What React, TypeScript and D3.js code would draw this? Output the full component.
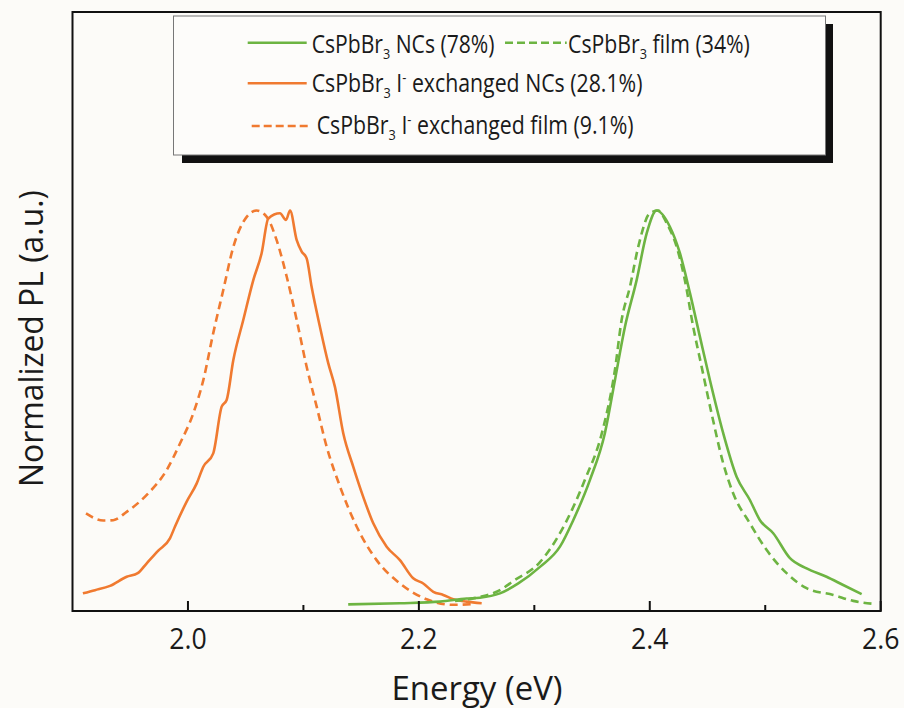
import React, { useLayoutEffect, useRef, useState } from 'react';
import * as d3 from 'd3';

// ---------- data ----------
// CsPbBr3 NCs (78%) – green solid
const brNcE = [2.1388, 2.1836, 2.2183, 2.2414, 2.2529, 2.2702, 2.2861, 2.3049, 2.3222, 2.3337, 2.3482, 2.3611, 2.3698, 2.3785, 2.3886, 2.3973, 2.4059, 2.4174, 2.4261, 2.4348, 2.4434, 2.4521, 2.4636, 2.4752, 2.4867, 2.4954, 2.5069, 2.5214, 2.5358, 2.5531, 2.5675, 2.5835];
const brNcI = [0.004, 0.007, 0.011, 0.019, 0.021, 0.032, 0.057, 0.099, 0.150, 0.217, 0.319, 0.437, 0.571, 0.706, 0.824, 0.942, 1.0, 0.959, 0.892, 0.791, 0.681, 0.571, 0.437, 0.327, 0.268, 0.217, 0.184, 0.121, 0.095, 0.074, 0.053, 0.030];

// CsPbBr3 film (34%) – green dashed
const brFilmE = [2.2313, 2.2529, 2.2702, 2.2817, 2.3049, 2.3222, 2.3438, 2.3585, 2.3698, 2.3756, 2.3828, 2.39, 2.4, 2.4073, 2.4146, 2.4233, 2.4304, 2.4376, 2.4449, 2.4535, 2.4636, 2.4722, 2.4867, 2.5011, 2.5185, 2.5358, 2.5589, 2.5762, 2.595];
const brFilmI = [0.013, 0.023, 0.040, 0.063, 0.111, 0.184, 0.319, 0.437, 0.597, 0.723, 0.807, 0.908, 0.993, 1.0, 0.968, 0.908, 0.824, 0.706, 0.605, 0.487, 0.361, 0.285, 0.209, 0.142, 0.083, 0.045, 0.028, 0.013, 0.005];

// CsPbBr3 I- exchanged NCs (28.1%) – orange solid
const iNcE = [1.909, 1.9195, 1.9325, 1.9469, 1.9565, 1.9643, 1.9743, 1.9844, 1.9888, 1.9989, 2.0076, 2.0133, 2.0219, 2.0292, 2.0335, 2.0393, 2.0479, 2.0566, 2.0638, 2.0696, 2.0797, 2.0849, 2.0884, 2.0942, 2.0985, 2.1028, 2.1071, 2.1143, 2.1215, 2.1273, 2.1345, 2.1432, 2.1518, 2.1605, 2.1721, 2.1836, 2.1951, 2.2038, 2.2125, 2.2211, 2.2298, 2.2414, 2.2544];
const iNcI = [0.032, 0.040, 0.051, 0.074, 0.083, 0.108, 0.140, 0.171, 0.201, 0.264, 0.310, 0.352, 0.386, 0.504, 0.521, 0.622, 0.723, 0.824, 0.892, 0.980, 0.993, 0.976, 1.0, 0.925, 0.896, 0.879, 0.807, 0.706, 0.614, 0.554, 0.437, 0.352, 0.276, 0.209, 0.150, 0.116, 0.070, 0.057, 0.036, 0.028, 0.017, 0.011, 0.007];

// CsPbBr3 I- exchanged film (9.1%) – orange dashed
const iFilmE = [1.9117, 1.9267, 1.9353, 1.9469, 1.9643, 1.9816, 1.9931, 2.0046, 2.0133, 2.0219, 2.0306, 2.0393, 2.0509, 2.0595, 2.0682, 2.0768, 2.0855, 2.0942, 2.1028, 2.1115, 2.1201, 2.1317, 2.1461, 2.1634, 2.1836, 2.2067, 2.2298, 2.2471];
const iFilmI = [0.234, 0.216, 0.217, 0.238, 0.281, 0.344, 0.411, 0.487, 0.571, 0.690, 0.799, 0.908, 0.984, 1.0, 0.984, 0.925, 0.833, 0.723, 0.605, 0.504, 0.403, 0.302, 0.201, 0.116, 0.057, 0.017, 0.003, 0.005];

const majorTicks = [2.0, 2.2, 2.4, 2.6];
const minorTicks = [2.1, 2.3, 2.5];
const xTitle = 'Energy (eV)';
const yTitle = 'Normalized PL (a.u.)';

// legend label pieces: [before "I", has iodide mark, tail]
const legendTails = [' NCs (78%)', ' film (34%)', ' exchanged NCs (28.1%)', ' exchanged film (9.1%)'];
const legendIodide = [false, false, true, true];

const GREEN = '#6db442';
const ORANGE = '#f07a30';
const BG = '#fcfbf8';
const FONT = "'Open Sans', 'Noto Sans', sans-serif";

const W = 904;
const H = 708;
const plot = { left: 72.5, right: 880.7, top: 12, bottom: 611 };

// legend layout (positions only)
const legendText = [
  { x: 311.7, y: 53, w: 183 },
  { x: 568, y: 53, w: 182 },
  { x: 311.7, y: 92, w: 331 },
  { x: 316.7, y: 133.5, w: 317 },
];

export default function App() {
  const x = d3.scaleLinear().domain([1.9, 2.6]).range([plot.left, plot.right]);
  const y = d3.scaleLinear().domain([0, 1]).range([606, 210.5]);
  const line = d3
    .line<[number, number]>()
    .x((d) => x(d[0]))
    .y((d) => y(d[1]))
    .curve(d3.curveMonotoneX);
  const zip = (a: number[], b: number[]) => a.map((v, i) => [v, b[i]] as [number, number]);
  const fmt = d3.format('.1f');

  const refs = useRef<(SVGTextElement | null)[]>([]);
  const [scales, setScales] = useState<number[]>([1, 1, 1, 1]);
  useLayoutEffect(() => {
    const s = refs.current.map((el, i) => {
      if (!el) return 1;
      const w = el.getBBox().width;
      return w > 0 ? legendText[i].w / w : 1;
    });
    setScales(s);
  }, []);

  const series = [
    { d: zip(iFilmE, iFilmI), color: ORANGE, dash: '8 5' },
    { d: zip(iNcE, iNcI), color: ORANGE, dash: null },
    { d: zip(brFilmE, brFilmI), color: GREEN, dash: '8 5' },
    { d: zip(brNcE, brNcI), color: GREEN, dash: null },
  ];

  return (
    <svg
      width={W}
      height={H}
      style={{ position: 'absolute', left: 0, top: 0, display: 'block' }}
      fontFamily={FONT}
    >
      <rect x={0} y={0} width={W} height={H} fill={BG} />

      {/* curves */}
      <g fill="none" strokeWidth={2.6} strokeLinejoin="round" strokeLinecap="butt">
        {series.map((s, i) => (
          <path key={i} d={line(s.d) || ''} stroke={s.color} strokeDasharray={s.dash || undefined} />
        ))}
      </g>

      {/* frame */}
      <rect
        x={plot.left}
        y={plot.top}
        width={plot.right - plot.left}
        height={plot.bottom - plot.top}
        fill="none"
        stroke="#111"
        strokeWidth={2}
      />
      {/* ticks */}
      {majorTicks.map((t) => (
        <g key={'M' + t}>
          <line x1={x(t)} x2={x(t)} y1={plot.bottom} y2={plot.bottom - 10} stroke="#111" strokeWidth={2} />
          <text
            x={x(t)}
            y={649}
            textAnchor="middle"
            fontSize={29.5}
            fill="#1a1a1a"
            textLength={37.5}
            lengthAdjust="spacingAndGlyphs"
          >
            {fmt(t)}
          </text>
        </g>
      ))}
      {minorTicks.map((t) => (
        <line key={'m' + t} x1={x(t)} x2={x(t)} y1={plot.bottom} y2={plot.bottom - 6} stroke="#111" strokeWidth={2} />
      ))}

      {/* axis titles */}
      <text
        x={477}
        y={700}
        textAnchor="middle"
        fontSize={32}
        fill="#1a1a1a"
        textLength={171}
        lengthAdjust="spacingAndGlyphs"
      >
        {xTitle}
      </text>
      <text
        transform="translate(43,338.5) rotate(-90)"
        textAnchor="middle"
        fontSize={32}
        fill="#1a1a1a"
        textLength={297}
        lengthAdjust="spacingAndGlyphs"
      >
        {yTitle}
      </text>

      {/* legend */}
      <rect x={182} y={24} width={651} height={139} fill="#111" />
      <rect x={173.5} y={16} width={652} height={139} fill="#fdfcfa" stroke="#777" strokeWidth={1} />
      <g strokeWidth={2.6}>
        <line x1={247.7} x2={306.7} y1={42.7} y2={42.7} stroke={GREEN} />
        <line x1={505} x2={566.7} y1={42.7} y2={42.7} stroke={GREEN} strokeDasharray="8 4" />
        <line x1={247.7} x2={306.7} y1={83.3} y2={83.3} stroke={ORANGE} />
        <line x1={251.7} x2={311.7} y1={126} y2={126} stroke={ORANGE} strokeDasharray="8 4" />
      </g>
      <g fontSize={25} fill="#1a1a1a">
        {legendText.map((p, i) => (
          <text
            key={i}
            ref={(el) => {
              refs.current[i] = el;
            }}
            transform={`translate(${p.x},${p.y}) scale(${scales[i]},1)`}
          >
            <tspan>CsPbBr</tspan>
            <tspan dy={6} fontSize={15}>3</tspan>
            {legendIodide[i] ? (
              <>
                <tspan dy={-6}> I</tspan>
                <tspan dy={-9} fontSize={15}>-</tspan>
                <tspan dy={9}>{legendTails[i]}</tspan>
              </>
            ) : (
              <tspan dy={-6}>{legendTails[i]}</tspan>
            )}
          </text>
        ))}
      </g>
    </svg>
  );
}
